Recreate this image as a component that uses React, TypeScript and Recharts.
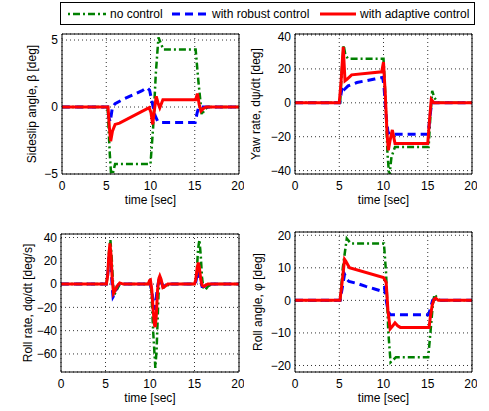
import { LineChart, Line, XAxis, YAxis, CartesianGrid } from "recharts";

// time axis shared by all four panels
const timeTicks = [0, 5, 10, 15, 20];

// sideslip angle beta [deg]
const betaNoneT = [0, 5.15, 5.4, 5.6, 5.8, 6.0, 10.0, 10.3, 10.6, 10.9, 11.2, 11.45, 15.1, 15.4, 15.8, 16.1, 16.5, 20];
const betaNone = [0, 0, -3.5, -5.6, -4.8, -4.25, -4.25, -1.5, 2.5, 5.2, 4.7, 4.3, 4.3, 2.0, -0.6, -0.2, 0, 0];
const betaRobustT = [0, 5.15, 5.3, 5.45, 5.7, 6, 7, 8, 9, 9.6, 9.9, 10.2, 10.5, 10.8, 11.2, 15.05, 15.25, 15.45, 20];
const betaRobust = [0, 0, -0.8, -1.1, 0, 0.25, 0.6, 0.9, 1.2, 1.45, 1.25, 0.3, -0.6, -1.05, -1.15, -1.15, -0.5, 0, 0];
const betaAdaptT = [0, 5.2, 5.35, 5.5, 5.7, 6.0, 6.5, 9.85, 10.05, 10.25, 10.45, 10.65, 10.85, 11.05, 11.4, 15.1, 15.3, 15.5, 15.7, 16.0, 16.3, 20];
const betaAdapt = [0, 0, -1.5, -2.55, -1.8, -1.3, -1.2, -0.05, -0.4, -1.3, -0.2, 0.8, 0.3, -0.05, 0.55, 0.55, 1.0, 0.2, -0.3, -0.1, 0, 0];

// yaw rate [deg/s]
const yawNoneT = [0, 5.1, 5.3, 5.5, 5.7, 6.0, 10.0, 10.2, 10.45, 10.65, 10.9, 11.3, 15.1, 15.3, 15.5, 15.75, 16.2, 20];
const yawNone = [0, 0, 20, 34, 28, 26, 26, 5, -30, -44, -32, -26, -26, -8, 7, 3, 0, 0];
const yawRobustT = [0, 5.05, 5.2, 5.35, 5.6, 6.0, 7, 8, 9, 9.9, 10.05, 10.3, 10.5, 10.7, 15.05, 15.25, 15.45, 20];
const yawRobust = [0, 0, 5, 10, 8, 10, 12, 13, 14, 15, 10, -8, -17, -18.5, -18.5, -8, 0, 0];
const yawAdaptT = [0, 5.0, 5.2, 5.45, 5.65, 5.9, 6.4, 9.8, 10.0, 10.2, 10.4, 10.55, 10.75, 11.0, 11.3, 15.0, 15.2, 15.4, 15.7, 20];
const yawAdapt = [0, 0, 12, 33, 13, 14, 16.5, 18.3, 24, 5, -18, -28, -22, -16, -24, -24, -10, 2, 0, 0];

// roll rate [deg/s]
const pNoneT = [0, 5.1, 5.25, 5.4, 5.55, 5.7, 5.85, 6.0, 6.2, 6.6, 9.8, 10.0, 10.15, 10.35, 10.6, 10.75, 10.95, 11.1, 11.3, 11.5, 11.8, 12.2, 15.1, 15.25, 15.4, 15.55, 15.7, 15.85, 16.0, 16.2, 16.5, 17, 20];
const pNone = [0, 0, 8, 28, 38, 22, 0, -9, -6, 0, 0, 3, -5, -40, -72, -55, -10, 7, 2, -3, -2, 0, 0, 10, 30, 38, 25, 5, -3, -5, -2, 0, 0];
const pRobustT = [0, 5.1, 5.25, 5.4, 5.48, 5.6, 5.75, 5.85, 6.0, 6.3, 6.6, 9.8, 10.0, 10.2, 10.4, 10.5, 10.65, 10.85, 11.05, 11.25, 11.45, 11.8, 12.2, 15.1, 15.25, 15.38, 15.5, 15.65, 15.85, 16.1, 16.5, 20];
const pRobust = [0, 0, 8, 22, 28, 18, -2, -11, -9, -2, 0, 0, 2, -6, -18, -22, -15, -2, 5, 2, -2, -1, 0, 0, 6, 12, 9, 3, -2, -2, 0, 0];
const pAdaptT = [0, 5.1, 5.25, 5.38, 5.5, 5.62, 5.75, 5.9, 6.05, 6.3, 6.6, 7, 9.8, 9.95, 10.05, 10.2, 10.35, 10.5, 10.58, 10.7, 10.85, 11.0, 11.1, 11.25, 11.45, 11.6, 12, 15.0, 15.15, 15.3, 15.43, 15.55, 15.7, 15.85, 16.05, 16.5, 20];
const pAdapt = [0, 0, 8, 25, 35, 25, 5, -8, -6, -2, 1, 0, 0, 3, 3.5, -5, -22, -35, -37, -28, -5, 5, 7, 4, -3, -2.5, 0, 0, 4, 14, 18.5, 14, 4, -1, -2, 0, 0];

// roll angle phi [deg]
const phiNoneT = [0, 5.1, 5.4, 5.85, 6.3, 10.05, 10.3, 10.55, 10.8, 11.4, 15.05, 15.3, 15.55, 15.75, 16.0, 16.4, 20];
const phiNone = [0, 0, 10, 19, 17.5, 17.5, 8, -10, -19, -17.5, -17.5, -10, -2, 1.8, 1.0, 0, 0];
const phiRobustT = [0, 5.1, 5.35, 5.6, 5.85, 6.1, 7, 8, 9, 9.6, 9.9, 10.1, 10.3, 10.55, 10.75, 15.1, 15.3, 15.55, 15.8, 16.2, 20];
const phiRobust = [0, 0, 4, 8, 6.5, 5.8, 5.2, 4.3, 3.5, 3.0, 3.8, 4.0, 0, -3.5, -4.4, -4.4, -2.5, 0, 0.5, 0, 0];
const phiAdaptT = [0, 5.08, 5.3, 5.6, 5.75, 6.15, 10.0, 10.3, 10.5, 10.75, 11.0, 11.3, 11.6, 11.9, 15.15, 15.3, 15.5, 15.7, 15.9, 16.2, 20];
const phiAdapt = [0, 0, 5, 12.6, 12, 10, 7, 5.5, -3, -8.8, -8, -6.9, -7.8, -8.3, -8.3, -5, -1.5, 0.3, 0.7, 0, 0];

const FONT = '"Liberation Sans", Arial, Helvetica, sans-serif';
const GREEN = "#008000";
const BLUE = "#0000ff";
const RED = "#ff0000";

const pts = (t: number[], v: number[]) => t.map((x, i) => ({ t: x, v: v[i] }));
const minus = (n: number) => String(n).replace("-", "\u2212");

interface PanelProps {
  px: number;
  py: number;
  w: number;
  h: number;
  yDomain: [number, number];
  yTicks: number[];
  yLabel: string;
  labelX: number;
  none: { t: number; v: number }[];
  robust: { t: number; v: number }[];
  adapt: { t: number; v: number }[];
}

function Panel({ px, py, w, h, yDomain, yTicks, yLabel, labelX, none, robust, adapt }: PanelProps) {
  const tickStyle = { fill: "#000", fontSize: 12, fontFamily: FONT };
  return (
    <>
      <div style={{ position: "absolute", left: px - 50, top: py - 5 }}>
        <LineChart width={w + 55} height={h + 45} margin={{ top: 5, right: 5, left: 0, bottom: 0 }}>
          <CartesianGrid stroke="#333" strokeDasharray="1 3" />
          <XAxis
            dataKey="t"
            type="number"
            domain={[0, 20]}
            ticks={timeTicks}
            allowDataOverflow
            height={40}
            stroke="#000"
            tickLine={false}
            tickSize={0}
            tickMargin={7}
            tick={tickStyle}
          />
          <XAxis xAxisId="xb" dataKey="t" type="number" domain={[0, 20]} ticks={timeTicks} allowDataOverflow mirror axisLine={false} tick={false} tickSize={3} stroke="#000" />
          <XAxis xAxisId="xt" orientation="top" dataKey="t" type="number" domain={[0, 20]} ticks={timeTicks} allowDataOverflow mirror tick={false} tickSize={3} stroke="#000" />
          <YAxis
            type="number"
            domain={yDomain}
            ticks={yTicks}
            allowDataOverflow
            width={50}
            stroke="#000"
            tickLine={false}
            tickSize={0}
            tickMargin={4}
            tick={tickStyle}
            tickFormatter={minus}
          />
          <YAxis yAxisId="yl" type="number" domain={yDomain} ticks={yTicks} allowDataOverflow mirror axisLine={false} tick={false} tickSize={3} stroke="#000" />
          <YAxis yAxisId="yr" orientation="right" type="number" domain={yDomain} ticks={yTicks} allowDataOverflow mirror tick={false} tickSize={3} stroke="#000" />
          <Line data={none} dataKey="v" type="linear" stroke={GREEN} strokeWidth={2.5} strokeDasharray="7 3 2 3" dot={false} activeDot={false} isAnimationActive={false} />
          <Line data={robust} dataKey="v" type="linear" stroke={BLUE} strokeWidth={3} strokeDasharray="8 5" dot={false} activeDot={false} isAnimationActive={false} />
          <Line data={adapt} dataKey="v" type="linear" stroke={RED} strokeWidth={3} dot={false} activeDot={false} isAnimationActive={false} />
        </LineChart>
      </div>
      <div
        style={{
          position: "absolute",
          left: px,
          width: w,
          top: py + h + 19,
          height: 14,
          lineHeight: "14px",
          textAlign: "center",
          fontFamily: FONT,
          fontSize: 12,
        }}
      >
        time [sec]
      </div>
      <div
        style={{
          position: "absolute",
          left: labelX - 100,
          top: py + h / 2 - 7,
          width: 200,
          height: 14,
          lineHeight: "14px",
          textAlign: "center",
          fontFamily: FONT,
          fontSize: 12,
          whiteSpace: "nowrap",
          transform: "rotate(-90deg)",
        }}
      >
        {yLabel}
      </div>
    </>
  );
}

function LegendBox() {
  return (
    <svg width={489} height={30} style={{ position: "absolute", left: 0, top: 0 }}>
      <rect x={60.5} y={2.5} width={414} height={22} fill="#fff" stroke="#000" strokeWidth={1} />
      <line x1={68} x2={106} y1={14} y2={14} stroke={GREEN} strokeWidth={2.5} strokeDasharray="7 3 2 3" strokeDashoffset={-5} />
      <text x={110} y={18} fontFamily={FONT} fontSize={12}>no control</text>
      <line x1={172} x2={208} y1={14} y2={14} stroke={BLUE} strokeWidth={3} strokeDasharray="8 5" />
      <text x={212} y={18} fontFamily={FONT} fontSize={12}>with robust control</text>
      <line x1={320} x2={356} y1={14} y2={14} stroke={RED} strokeWidth={3} />
      <text x={360} y={18} fontFamily={FONT} fontSize={12}>with adaptive control</text>
    </svg>
  );
}

export default function App() {
  return (
    <div style={{ position: "absolute", left: 0, top: 0, width: 489, height: 411, background: "#fff", overflow: "hidden" }}>
      <LegendBox />
      <Panel
        px={62}
        py={34}
        w={177}
        h={140}
        yDomain={[-5, 5.45]}
        yTicks={[-5, 0, 5]}
        yLabel="Sideslip angle, β [deg]"
        labelX={32}
        none={pts(betaNoneT, betaNone)}
        robust={pts(betaRobustT, betaRobust)}
        adapt={pts(betaAdaptT, betaAdapt)}
      />
      <Panel
        px={295}
        py={34}
        w={177}
        h={140}
        yDomain={[-42, 40.6]}
        yTicks={[-40, -20, 0, 20, 40]}
        yLabel="Yaw rate, dψ/dt [deg]"
        labelX={256}
        none={pts(yawNoneT, yawNone)}
        robust={pts(yawRobustT, yawRobust)}
        adapt={pts(yawAdaptT, yawAdapt)}
      />
      <Panel
        px={61}
        py={234}
        w={178}
        h={138}
        yDomain={[-75.5, 43]}
        yTicks={[-60, -40, -20, 0, 20, 40]}
        yLabel="Roll rate, dφ/dt [deg/s]"
        labelX={27.5}
        none={pts(pNoneT, pNone)}
        robust={pts(pRobustT, pRobust)}
        adapt={pts(pAdaptT, pAdapt)}
      />
      <Panel
        px={295}
        py={232}
        w={177}
        h={140}
        yDomain={[-22, 21]}
        yTicks={[-20, -10, 0, 10, 20]}
        yLabel="Roll angle, φ [deg]"
        labelX={258}
        none={pts(phiNoneT, phiNone)}
        robust={pts(phiRobustT, phiRobust)}
        adapt={pts(phiAdaptT, phiAdapt)}
      />
    </div>
  );
}
